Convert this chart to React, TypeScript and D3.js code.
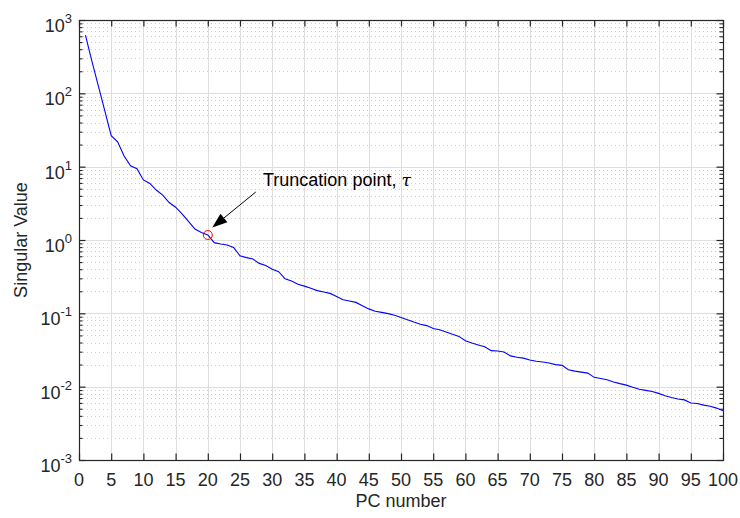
import React from "react";
import * as d3 from "d3";

const pcNumbers: number[] = Array.from({ length: 100 }, (_, i) => i + 1);
const singularValues: number[] = [
  620, 275, 126, 58, 26.4, 21.8, 14, 10.3, 9.4, 6.6,
  5.9, 4.8, 4.1, 3.24, 2.8, 2.27, 1.8, 1.41, 1.27, 1.17,
  0.92, 0.88, 0.855, 0.79, 0.61, 0.575, 0.55, 0.48, 0.45, 0.4,
  0.37, 0.295, 0.276, 0.25, 0.235, 0.22, 0.204, 0.195, 0.187, 0.17,
  0.153, 0.147, 0.141, 0.127, 0.115, 0.107, 0.103, 0.099, 0.094, 0.088,
  0.082, 0.076, 0.071, 0.068, 0.062, 0.0597, 0.0556, 0.0517, 0.0485, 0.0423,
  0.0393, 0.037, 0.035, 0.031, 0.0306, 0.0297, 0.0263, 0.0252, 0.0245, 0.0231,
  0.0222, 0.0217, 0.021, 0.02, 0.0195, 0.017, 0.0163, 0.0158, 0.0153, 0.0134,
  0.0129, 0.0124, 0.0116, 0.011, 0.0105, 0.0098, 0.0092, 0.0089, 0.0086, 0.0081,
  0.0075, 0.0071, 0.0068, 0.0066, 0.006, 0.0059, 0.0056, 0.0054, 0.0051, 0.0047,
];
const xTicks: number[] = d3.range(0, 101, 5);
const yTickExponents: number[] = [-3, -2, -1, 0, 1, 2, 3];
const truncationIndex = 20;
const annotationText = "Truncation point, ";
const annotationSymbol = "τ";
const xLabel = "PC number";
const yLabel = "Singular Value";

const W = 740;
const H = 518;
const M = { left: 79, right: 723, top: 20, bottom: 460 };
const FONT = "'Liberation Sans', Arial, Helvetica, sans-serif";
const AX = "#262626";

export default function App() {
  const x = d3.scaleLinear().domain([0, 100]).range([M.left, M.right]);
  const y = d3.scaleLog().domain([1e-3, 1e3]).range([M.bottom, M.top]);

  const minorVals: number[] = [];
  for (let e = -3; e < 3; e++) {
    for (let k = 2; k <= 9; k++) minorVals.push(k * Math.pow(10, e));
  }

  const line = d3
    .line<number>()
    .x((_, i) => x(pcNumbers[i]))
    .y((d) => y(d));

  const tx = x(truncationIndex);
  const ty = y(singularValues[truncationIndex - 1]);
  const arrowStart = { x: tx + 48, y: ty - 43 };
  const arrowTip = { x: tx + 4.5, y: ty - 7.5 };
  const ang = Math.atan2(arrowTip.y - arrowStart.y, arrowTip.x - arrowStart.x);
  const hl = 15;
  const hw = 5.5;
  const bx = arrowTip.x - hl * Math.cos(ang);
  const by = arrowTip.y - hl * Math.sin(ang);
  const head = [
    [arrowTip.x, arrowTip.y],
    [bx + hw * Math.sin(ang), by - hw * Math.cos(ang)],
    [bx - hw * Math.sin(ang), by + hw * Math.cos(ang)],
  ]
    .map((p) => p.join(","))
    .join(" ");

  return (
    <svg width={W} height={H} style={{ position: "absolute", left: 0, top: 0 }}>
      <rect x={0} y={0} width={W} height={H} fill="#ffffff" />
      {/* minor grid */}
      {minorVals.map((v) => (
        <line
          key={"mg" + v}
          x1={M.left}
          x2={M.right}
          y1={Math.round(y(v)) + 0.5}
          y2={Math.round(y(v)) + 0.5}
          stroke="#cdcdcd"
          strokeWidth={1}
          strokeDasharray="1,3"
        />
      ))}
      {/* major grid */}
      {xTicks.map((t) => (
        <line
          key={"gx" + t}
          x1={Math.round(x(t)) + 0.5}
          x2={Math.round(x(t)) + 0.5}
          y1={M.top}
          y2={M.bottom}
          stroke="#dedede"
          strokeWidth={1}
        />
      ))}
      {yTickExponents.map((e) => (
        <line
          key={"gy" + e}
          x1={M.left}
          x2={M.right}
          y1={Math.round(y(Math.pow(10, e))) + 0.5}
          y2={Math.round(y(Math.pow(10, e))) + 0.5}
          stroke="#dedede"
          strokeWidth={1}
        />
      ))}
      {/* data line */}
      <path d={line(singularValues) || ""} fill="none" stroke="#0000ff" strokeWidth={1.1} />
      {/* truncation marker */}
      <circle cx={tx} cy={ty} r={4.5} fill="none" stroke="#ff0000" strokeWidth={1} />
      <line
        x1={arrowStart.x}
        y1={arrowStart.y}
        x2={bx}
        y2={by}
        stroke="#000000"
        strokeWidth={1}
      />
      <polygon points={head} fill="#000000" />
      <text x={263} y={186} fontFamily={FONT} fontSize={18} fill="#000000">
        {annotationText}
        <tspan fontFamily="'DejaVu Serif', serif" fontStyle="italic" fontSize={17}>
          {annotationSymbol}
        </tspan>
      </text>
      {/* axes box */}
      <rect
        x={M.left + 0.5}
        y={M.top + 0.5}
        width={M.right - M.left}
        height={M.bottom - M.top}
        fill="none"
        stroke={AX}
        strokeWidth={1.2}
      />
      {/* x ticks */}
      {xTicks.map((t) => (
        <g key={"xt" + t}>
          <line x1={x(t) + 0.5} x2={x(t) + 0.5} y1={M.bottom} y2={M.bottom - 6.5} stroke={AX} strokeWidth={1.2} />
          <line x1={x(t) + 0.5} x2={x(t) + 0.5} y1={M.top} y2={M.top + 6.5} stroke={AX} strokeWidth={1.2} />
          <text
            x={x(t)}
            y={486}
            textAnchor="middle"
            fontFamily={FONT}
            fontSize={18}
            fill={AX}
          >
            {t}
          </text>
        </g>
      ))}
      {/* y ticks */}
      {yTickExponents.map((e) => {
        const yy = y(Math.pow(10, e));
        return (
          <g key={"yt" + e}>
            <line x1={M.left} x2={M.left + 6.5} y1={yy + 0.5} y2={yy + 0.5} stroke={AX} strokeWidth={1.2} />
            <line x1={M.right} x2={M.right - 6.5} y1={yy + 0.5} y2={yy + 0.5} stroke={AX} strokeWidth={1.2} />
            <text x={72} y={yy + 12} textAnchor="end" fontFamily={FONT} fontSize={18} fill={AX}>
              10
              <tspan dy={-9} fontSize={13}>
                {String(e)}
              </tspan>
            </text>
          </g>
        );
      })}
      {minorVals.map((v) => (
        <g key={"ym" + v}>
          <line x1={M.left} x2={M.left + 3.5} y1={y(v) + 0.5} y2={y(v) + 0.5} stroke={AX} strokeWidth={1.1} />
          <line x1={M.right} x2={M.right - 3.5} y1={y(v) + 0.5} y2={y(v) + 0.5} stroke={AX} strokeWidth={1.1} />
        </g>
      ))}
      {/* axis labels */}
      <text
        x={(M.left + M.right) / 2}
        y={507}
        textAnchor="middle"
        fontFamily={FONT}
        fontSize={18}
        fill={AX}
      >
        {xLabel}
      </text>
      <text
        transform={`translate(27,${(M.top + M.bottom) / 2}) rotate(-90)`}
        textAnchor="middle"
        fontFamily={FONT}
        fontSize={18}
        fill={AX}
      >
        {yLabel}
      </text>
    </svg>
  );
}
